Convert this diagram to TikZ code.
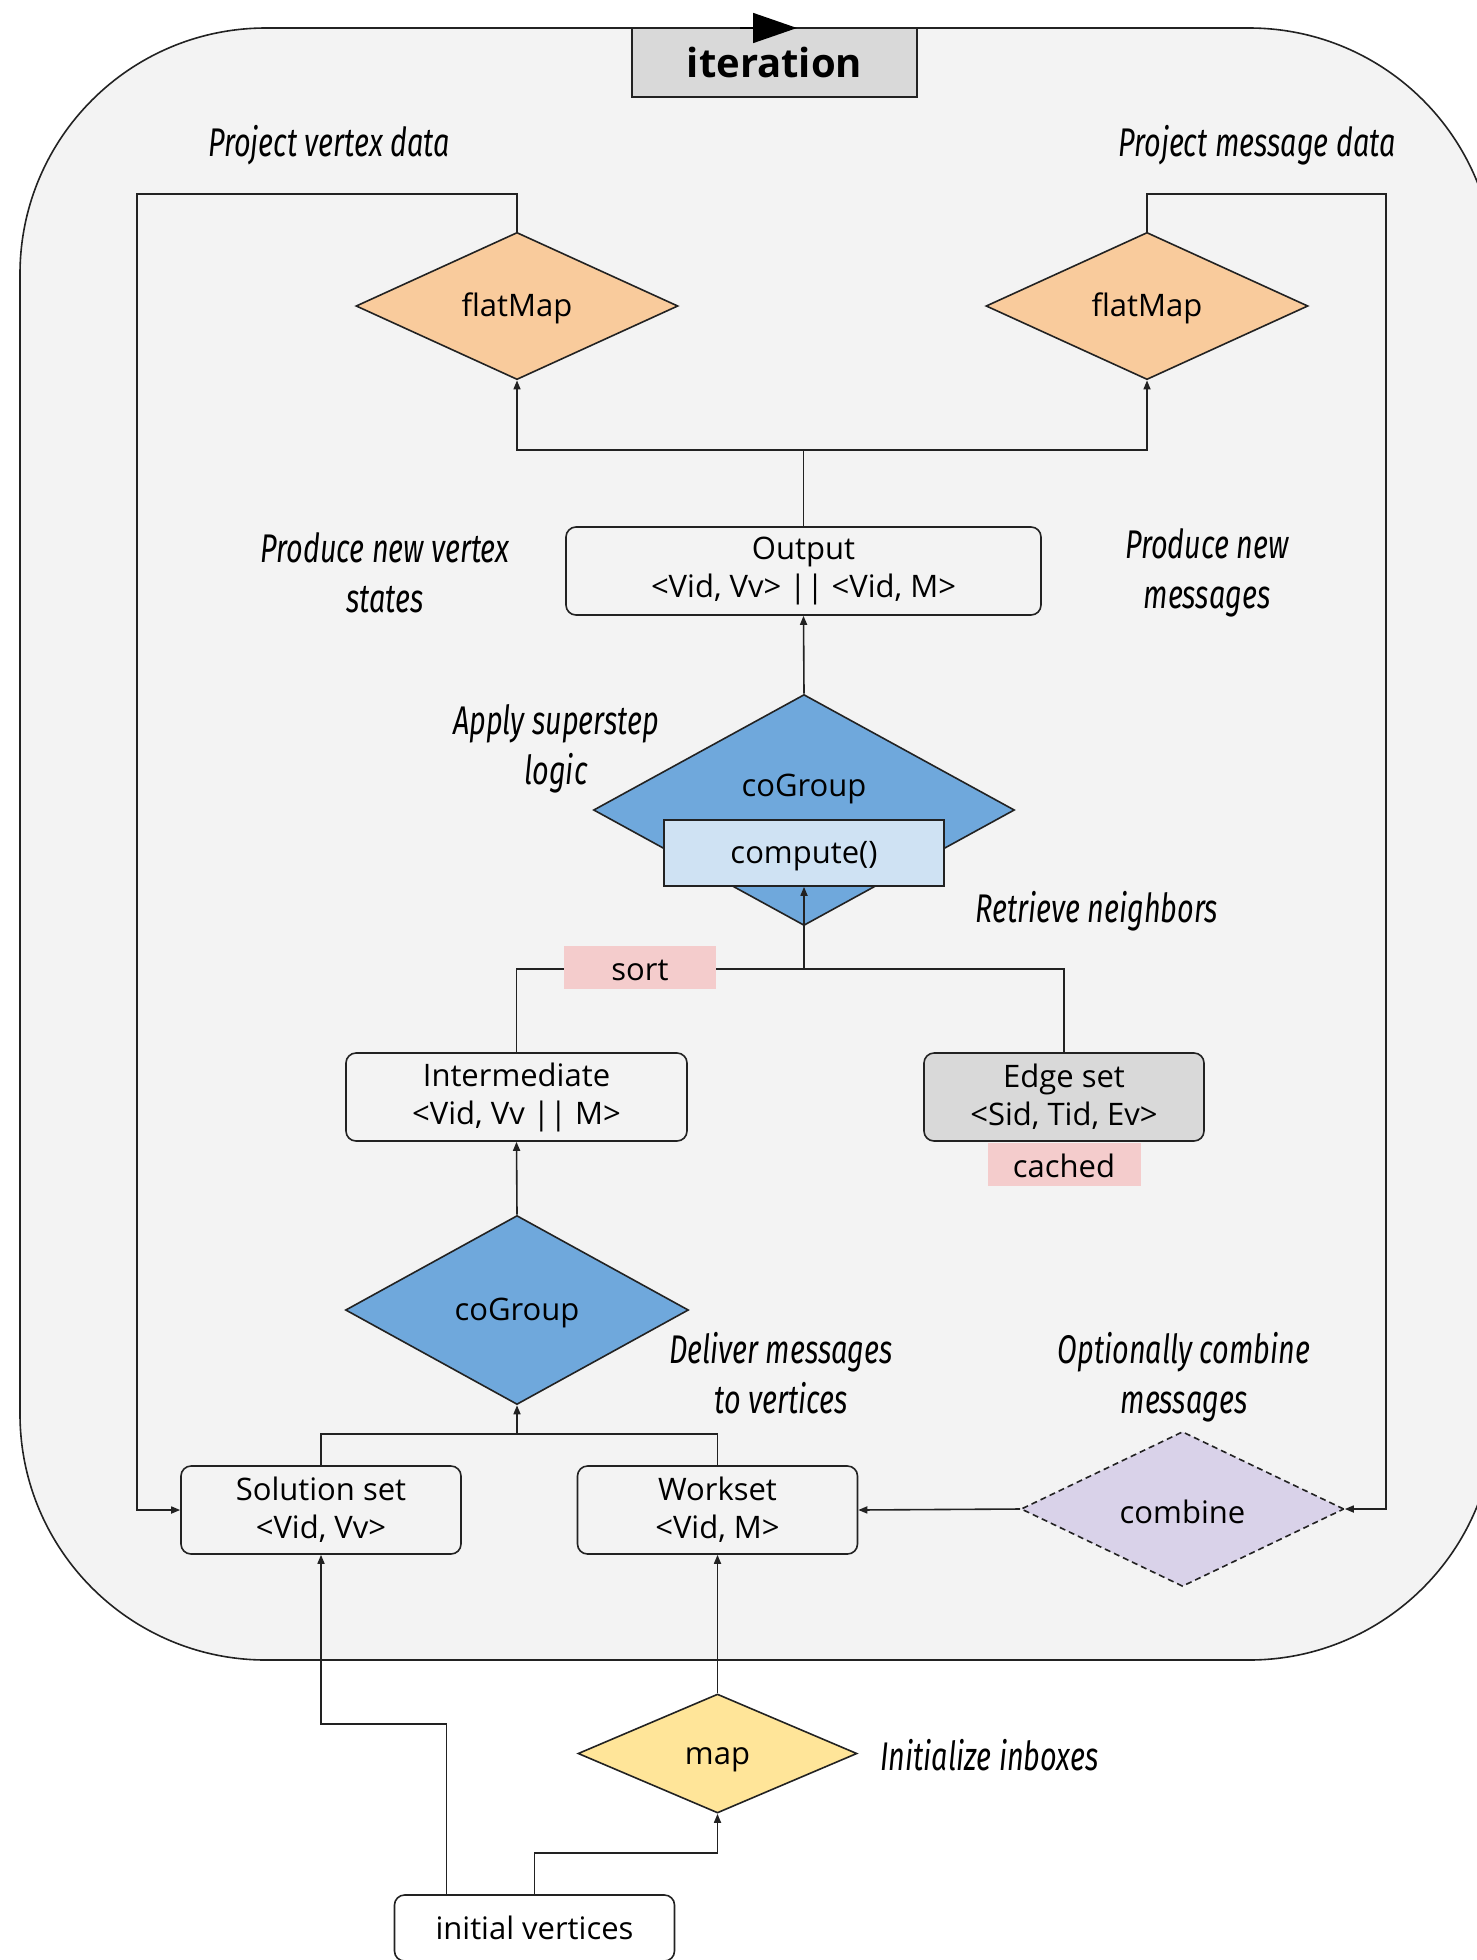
\documentclass[tikz,border=0pt]{standalone}
\usepackage{fontspec}
\setmainfont{Open Sans}
\newfontfamily\notefont[FakeStretch=0.72]{Fira Sans}
\usepackage{xcolor}
\usepackage{tikz}
\usetikzlibrary{shapes.geometric, arrows.meta}

\definecolor{framebg}{HTML}{F3F3F3}
\definecolor{tabgray}{HTML}{D9D9D9}
\definecolor{flatorange}{HTML}{F9CB9C}
\definecolor{cogblue}{HTML}{6FA8DC}
\definecolor{udfblue}{HTML}{CFE2F3}
\definecolor{tagred}{HTML}{F4CCCC}
\definecolor{combpurple}{HTML}{D9D2E9}
\definecolor{mapyellow}{HTML}{FFE599}
\definecolor{linegray}{HTML}{222222}

\begin{document}
\begin{tikzpicture}[
    x=0.5pt, y=-0.5pt, line width=0.8pt,
    txt/.style={font=\fontsize{15.5}{19}\selectfont},
    box/.style={txt, rectangle, draw=linegray, rounded corners=5pt, align=center, inner sep=0pt, minimum width=140pt, minimum height=44pt},
    op/.style={txt, text height=14.5pt, diamond, draw=linegray, inner sep=0pt},
    tag/.style={txt, text height=13.5pt, rectangle, fill=tagred, inner sep=0pt, minimum width=76pt, minimum height=21.5pt},
    note/.style={align=center, font=\notefont\itshape\fontsize{20}{25}\selectfont},
    wire/.style={draw=linegray},
    flow/.style={wire, -{Triangle[length=4.5pt, width=3.5pt]}}
]
\useasboundingbox (0,0) rectangle (1477,1960);

% Iteration frame
\draw[draw=linegray, fill=framebg, rounded corners=123pt] (20,28) rectangle (1495,1660);
\node[rectangle, draw=linegray, fill=tabgray, minimum width=142.5pt, minimum height=34.5pt, inner sep=0pt,
      font=\bfseries\fontsize{20}{24}\selectfont] (iter) at (774.5,62.5) {iteration};
\draw[-{Triangle[length=22pt, width=15pt]}, draw=black] (740,28) -- (797,28);

% Projections of the superstep output
\node[op, fill=flatorange, minimum width=161pt, minimum height=69.5pt] (flatL) at (517,306) {flatMap};
\node[op, fill=flatorange, minimum width=161pt, minimum height=69.5pt] (flatR) at (1147,306) {flatMap};
\node[box, minimum width=237.5pt] (out) at (803.5,571) {Output\\<Vid, Vv> || <Vid, M>};

% Superstep: coGroup + compute()
\node[op, fill=cogblue, minimum width=210.5pt, minimum height=115.5pt] (cgTop) at (804,810) {};
\node[txt] (cgTopLabel) at (804,789) {coGroup};
\node[txt, text height=14.5pt, rectangle, draw=linegray, fill=udfblue, minimum width=140pt, minimum height=33pt, inner sep=0pt] (compute) at (804,853) {compute()};

\node[box, minimum width=170.5pt] (inter) at (516.5,1097) {Intermediate\\<Vid, Vv || M>};
\node[box, fill=tabgray] (edges) at (1064,1097) {Edge set\\<Sid, Tid, Ev>};

% Message delivery
\node[op, fill=cogblue, minimum width=171.5pt, minimum height=94.5pt] (cgBot) at (517,1310) {coGroup};
\node[box] (sol) at (321,1510) {Solution set\\<Vid, Vv>};
\node[box] (work) at (717.5,1510) {Workset\\<Vid, M>};
\node[op, fill=combpurple, dashed, dash pattern=on 3pt off 2pt, minimum width=161.5pt, minimum height=69pt] (comb) at (1182.5,1509) {combine};

% Inputs
\node[op, fill=mapyellow, minimum width=139.5pt, minimum height=59.5pt] (map) at (717.5,1753.5) {map};
\node[box, minimum height=33pt] (init) at (534.5,1928) {initial vertices};

% Connectors
\coordinate (split) at (803.5,450);
\coordinate (railL) at (137,194);
\coordinate (railR) at (1386,194);
\coordinate (join) at (804,969);
\coordinate (merge) at (517,1434);

\draw[wire] (out.north) -- (split);
\draw[flow] (split) -| (flatL.south);
\draw[flow] (split) -| (flatR.south);
\draw[flow] (flatL.north) |- (railL) |- (sol.west);
\draw[flow] (flatR.north) |- (railR) |- (comb.east);
\draw[flow] (cgTop.north) -- (out.south);

\draw[wire] (inter.north) |- (join);
\draw[wire] (edges.north) |- (join);
\draw[flow] (join) -- (compute.south);
\node[tag] (sort) at (640,967.5) {sort};
\node[tag, anchor=north, minimum width=76.5pt] (cached) at (edges.south) {cached};

\draw[flow] (cgBot.north) -- (inter.south);
\draw[wire] (sol.north) |- (merge);
\draw[wire] (work.north) |- (merge);
\draw[flow] (merge) -- (cgBot.south);
\draw[flow] (comb.west) -- (work.east);
\draw[flow] (map.north) -- (work.south);
\draw[flow] (init.north) -- ++(0,-41) -| (map.south);
\draw[flow] ([xshift=-44pt]init.north) -- ++(0,-170) -| (sol.south);

% Annotations
\node[note] (noteProjV) at (329,145) {Project vertex data};
\node[note] (noteProjM) at (1257,145) {Project message data};
\node[note] (noteNewV) at (385,573) {Produce new vertex\\states};
\node[note] (noteNewM) at (1207,573) {Produce new\\messages};
\node[note] (noteApply) at (556,749) {Apply superstep\\logic};
\node[note] (noteNbrs) at (1097,911) {Retrieve neighbors};
\node[note] (noteDeliver) at (781,1373) {Deliver messages\\to vertices};
\node[note] (noteComb) at (1184,1377) {Optionally combine\\messages};
\node[note, anchor=west] (noteInit) at (873,1755) {Initialize inboxes};

\end{tikzpicture}
\end{document}
